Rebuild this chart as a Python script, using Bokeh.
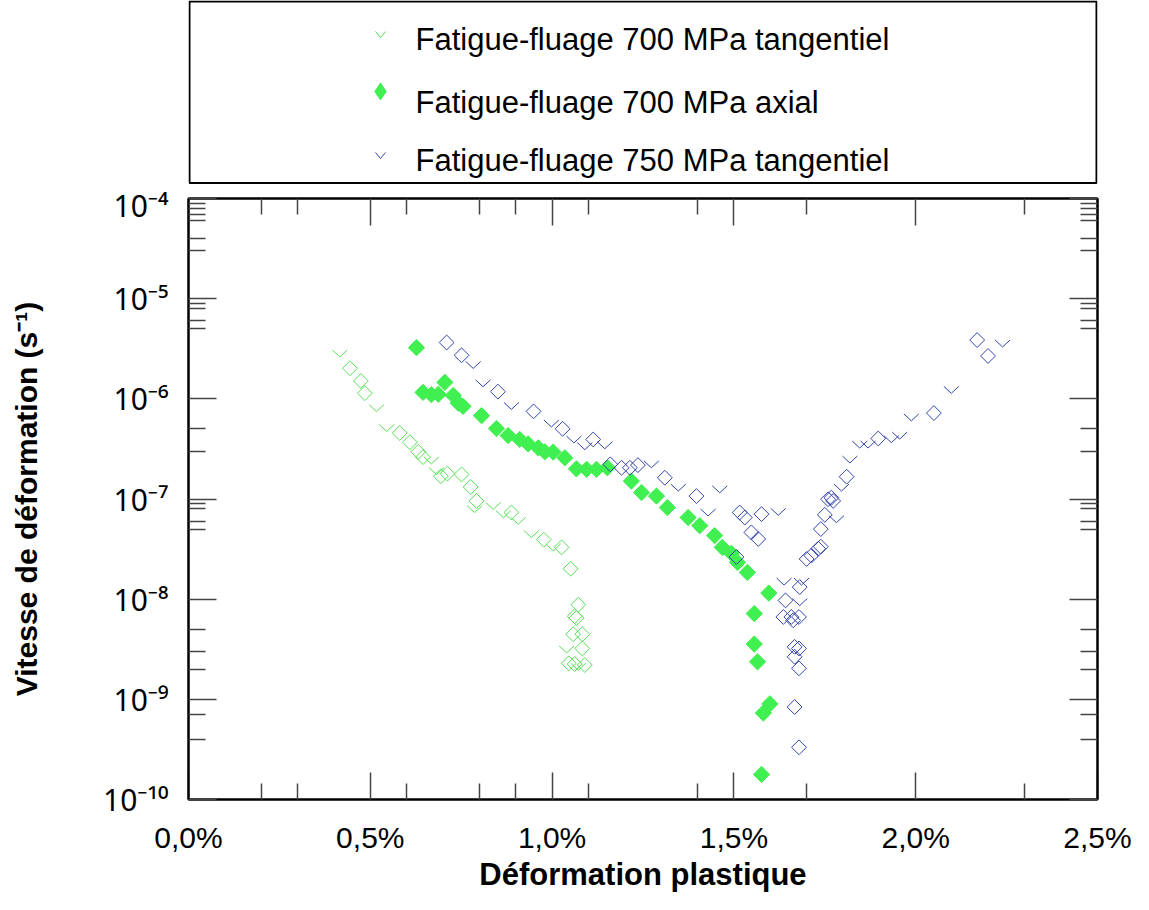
import math
from bokeh.plotting import figure
from bokeh.models import Range1d, FixedTicker, CustomJSTickFormatter, LogAxis, LinearAxis
from bokeh.layouts import column
from bokeh.embed import file_html
from bokeh.resources import INLINE
from bokeh.core.properties import value

# ---------------- data (x: plastic strain in %, y: strain rate in 1/s) ----------------
legend_labels = ["Fatigue-fluage 700 MPa tangentiel",
                 "Fatigue-fluage 700 MPa axial",
                 "Fatigue-fluage 750 MPa tangentiel"]

x_ticks = [0.0, 0.5, 1.0, 1.5, 2.0, 2.5]
x_minor_ticks = [0.2, 0.3, 0.6, 0.8, 0.9, 1.1, 1.4, 1.7, 2.3]
y_ticks = [1e-10, 1e-9, 1e-8, 1e-7, 1e-6, 1e-5, 1e-4]
y_minor_ticks = [9e-5, 8e-5, 7e-5, 6e-5, 4e-5, 3e-5,
                 9e-6, 8e-6, 6e-6, 5e-6,
                 5e-7, 3e-7,
                 9e-8, 8e-8, 6e-8, 5e-8,
                 5e-9, 3e-9, 2e-9,
                 7e-10, 4e-10]

# 700 MPa tangentiel - check marks
g_tan_chk_x = [0.416, 0.517, 0.545, 0.668, 0.682, 0.787, 0.838, 0.866, 0.907, 0.943, 1.003, 1.040, 1.072]
g_tan_chk_y = [2.84e-6, 8.09e-7, 5.12e-7, 2.43e-7, 1.90e-7, 7.93e-8, 8.53e-8, 7.06e-8, 6.07e-8,
               4.47e-8, 3.29e-8, 3.15e-9, 2.12e-9]
# 700 MPa tangentiel - open diamonds
g_tan_dia_x = [0.444, 0.474, 0.485, 0.581, 0.609, 0.632, 0.645, 0.694, 0.712, 0.751, 0.776, 0.792,
               0.888, 0.977, 1.026, 1.051, 1.072, 1.062, 1.067, 1.058, 1.083, 1.083, 1.046, 1.062, 1.090]
g_tan_dia_y = [2.02e-6, 1.51e-6, 1.14e-6, 4.56e-7, 3.69e-7, 2.96e-7, 2.62e-7, 1.69e-7, 1.79e-7,
               1.76e-7, 1.32e-7, 9.57e-8, 7.33e-8, 3.93e-8, 3.29e-8, 2.01e-8, 8.81e-9, 6.75e-9,
               6.49e-9, 4.47e-9, 4.47e-9, 3.22e-9, 2.29e-9, 2.25e-9, 2.20e-9]
# 700 MPa axial - filled diamonds
g_ax_x = [0.627, 0.645, 0.668, 0.687, 0.705, 0.728, 0.742, 0.755, 0.806, 0.847, 0.879, 0.911, 0.934,
          0.962, 0.980, 1.003, 1.035, 1.067, 1.095, 1.122, 1.152, 1.218, 1.246, 1.287, 1.317, 1.374,
          1.406, 1.447, 1.468, 1.493, 1.510, 1.537, 1.596, 1.556, 1.556, 1.565, 1.599, 1.581, 1.576]
g_ax_y = [3.24e-6, 1.16e-6, 1.10e-6, 1.11e-6, 1.46e-6, 1.08e-6, 9.06e-7, 8.41e-7, 6.79e-7, 5.05e-7,
          4.30e-7, 3.93e-7, 3.55e-7, 3.24e-7, 2.96e-7, 2.94e-7, 2.58e-7, 2.00e-7, 1.98e-7, 1.98e-7,
          2.05e-7, 1.51e-7, 1.16e-7, 1.07e-7, 8.22e-8, 6.53e-8, 5.41e-8, 4.31e-8, 3.29e-8, 2.87e-8,
          2.33e-8, 1.85e-8, 1.15e-8, 7.18e-9, 3.56e-9, 2.37e-9, 9.02e-10, 7.30e-10, 1.78e-10]
# 750 MPa tangentiel - check marks
b_tan_chk_x = [0.783, 0.810, 0.888, 0.998, 1.060, 1.090, 1.145, 1.273, 1.347, 1.429, 1.461, 1.622,
               1.638, 1.686, 1.681, 1.796, 1.782, 1.819, 1.846, 1.869, 1.933, 1.956, 1.988, 2.098, 2.239]
b_tan_chk_y = [2.18e-6, 1.43e-6, 8.50e-7, 5.68e-7, 3.93e-7, 3.37e-7, 3.44e-7, 2.22e-7, 1.30e-7,
               7.33e-8, 1.25e-7, 7.45e-8, 1.50e-8, 1.50e-8, 9.35e-9, 1.30e-7, 6.29e-8, 2.48e-7,
               3.50e-7, 3.50e-7, 3.96e-7, 4.30e-7, 6.53e-7, 1.23e-6, 3.57e-6]
# 750 MPa tangentiel - open diamonds
b_tan_dia_x = [0.710, 0.751, 0.851, 0.949, 1.029, 1.113, 1.160, 1.191, 1.214, 1.236, 1.310, 1.397,
               1.516, 1.530, 1.576, 1.548, 1.567, 1.507, 1.700, 1.713, 1.732, 1.739, 1.739, 1.750,
               1.759, 1.768, 1.773, 1.810, 1.897, 2.050, 2.169, 2.199, 1.681, 1.642, 1.636, 1.658,
               1.679, 1.663, 1.667, 1.679, 1.667, 1.679, 1.667, 1.679]
b_tan_dia_y = [3.65e-6, 2.72e-6, 1.18e-6, 7.50e-7, 5.02e-7, 3.93e-7, 2.22e-7, 2.05e-7, 2.05e-7,
               2.18e-7, 1.63e-7, 1.07e-7, 7.33e-8, 6.53e-8, 7.06e-8, 4.64e-8, 3.99e-8, 2.64e-8,
               2.52e-8, 2.72e-8, 3.19e-8, 3.34e-8, 5.01e-8, 6.95e-8, 9.95e-8, 1.03e-7, 9.57e-8,
               1.67e-7, 4.02e-7, 7.21e-7, 3.86e-6, 2.68e-6, 1.32e-8, 9.72e-9, 6.64e-9, 6.64e-9,
               6.64e-9, 6.15e-9, 3.34e-9, 3.22e-9, 2.66e-9, 2.04e-9, 8.38e-10, 3.32e-10]

# ---------------- layout / style ----------------
FONT = "Liberation Sans"
YTICK_FONT = "Noto Sans"
GREEN_OPEN = "#55e055"
GREEN_FILL = "#40ef50"
BLUE = "#3344aa"
TICK_COLOR = "#444444"

W = 1133
LEG_H = 184
FRAME_L, FRAME_W, FRAME_H = 188, 909, 604
TOP_B, BOT_B = 14, 92
X0, X1 = 0.0, 2.5
Y0, Y1 = 1e-10, 1e-4

PX_PER_X = FRAME_W / (X1 - X0)
PX_PER_DEC = FRAME_H / (math.log10(Y1) - math.log10(Y0))


def vmarks(xs, ys, half_w=7.5, half_h=3.5):
    dx = half_w / PX_PER_X
    f = 10 ** (half_h / PX_PER_DEC)
    return [[x - dx, x, x + dx] for x in xs], [[y * f, y / f, y * f] for y in ys]


# ---------------- legend panel (coordinates = canvas pixels) ----------------
leg = figure(width=W, height=LEG_H,
             x_range=Range1d(FRAME_L, FRAME_L + FRAME_W), y_range=Range1d(LEG_H, 0),
             output_backend="svg", toolbar_location=None,
             min_border_left=FRAME_L, min_border_right=W - FRAME_L - FRAME_W,
             min_border_top=0, min_border_bottom=0,
             x_axis_location=None, y_axis_location=None)
leg.outline_line_color = None
leg.grid.visible = False
leg.quad(left=[FRAME_L + 1], right=[FRAME_L + FRAME_W - 1], top=[1], bottom=[LEG_H - 1.5],
         fill_color=None, line_color="black", line_width=2)
row_base = [39, 102, 160]
mk_x = 380
txt_x = 415
leg.multi_line(xs=[[mk_x - 5, mk_x, mk_x + 5]], ys=[[row_base[0] - 8, row_base[0] - 2, row_base[0] - 8]],
               line_color=GREEN_OPEN, line_width=1)
leg.scatter(x=[mk_x], y=[row_base[1] - 11], marker="diamond", size=17,
            fill_color=GREEN_FILL, line_color=GREEN_FILL)
leg.multi_line(xs=[[mk_x - 5, mk_x, mk_x + 5]], ys=[[row_base[2] - 8, row_base[2] - 2, row_base[2] - 8]],
               line_color=BLUE, line_width=1)
leg.text(x=[txt_x] * 3, y=row_base, text=legend_labels, text_font=value(FONT),
         text_font_size="31px", text_baseline="alphabetic", text_align="left", text_color="black")

# ---------------- main plot ----------------
p = figure(width=W, height=TOP_B + FRAME_H + BOT_B,
           x_range=Range1d(X0, X1), y_range=Range1d(Y0, Y1), y_axis_type="log",
           output_backend="svg", toolbar_location=None,
           min_border_left=FRAME_L, min_border_right=W - FRAME_L - FRAME_W,
           min_border_top=TOP_B, min_border_bottom=BOT_B)
p.grid.visible = False
p.outline_line_color = "black"
p.outline_line_width = 2

xt = FixedTicker(ticks=x_ticks, minor_ticks=x_minor_ticks)
yt = FixedTicker(ticks=y_ticks, minor_ticks=y_minor_ticks)
empty_fmt = CustomJSTickFormatter(code="return '';")

xa = p.xaxis[0]
xa.ticker = xt
xa.formatter = CustomJSTickFormatter(code="return tick.toFixed(1).replace('.', ',') + '%';")
xa.axis_label = "Déformation plastique"
xa.major_label_standoff = 21
xa.axis_label_standoff = 0
xa.major_label_text_font = FONT
xa.major_label_text_font_size = "30px"
xa.axis_label_text_font_size = "31px"

ta = LinearAxis(ticker=xt, formatter=empty_fmt)
ta.major_label_standoff = 0
ta.major_label_text_font_size = "1px"
p.add_layout(ta, "above")

sup_code = """
const sup = {'-':'\u207b','0':'\u2070','1':'\u00b9','2':'\u00b2','3':'\u00b3','4':'\u2074',
             '5':'\u2075','6':'\u2076','7':'\u2077','8':'\u2078','9':'\u2079'};
const e = Math.round(Math.log10(tick));
return '10' + String(e).split('').map(c => sup[c]).join('');
"""
ya = p.yaxis[0]
ya.ticker = yt
ya.formatter = CustomJSTickFormatter(code=sup_code)
ya.axis_label = "Vitesse de déformation (s\u207b\u00b9)"
ya.major_label_standoff = 20
ya.axis_label_standoff = 57
ya.major_label_text_font = YTICK_FONT
ya.major_label_text_font_size = "30px"
ya.axis_label_text_font_size = "30px"

ra = LogAxis(ticker=yt, formatter=empty_fmt)
ra.major_label_standoff = 0
ra.major_label_text_font_size = "1px"
p.add_layout(ra, "right")

for ax in (xa, ta):
    ax.major_tick_in, ax.major_tick_out = 27, 0
    ax.minor_tick_in, ax.minor_tick_out = 16, 0
for ax in (ya, ra):
    ax.major_tick_in, ax.major_tick_out = 28, 0
    ax.minor_tick_in, ax.minor_tick_out = 17, 0

for ax in (xa, ta, ya, ra):
    ax.axis_line_color = "black"
    ax.axis_line_width = 2
    ax.major_tick_line_color = TICK_COLOR
    ax.minor_tick_line_color = TICK_COLOR
    ax.major_tick_line_width = 1.5
    ax.minor_tick_line_width = 1.5
    ax.axis_label_text_font = FONT
    ax.axis_label_text_font_style = "bold"
    ax.axis_label_text_color = "black"
    ax.major_label_text_color = "black"

# 700 MPa tangentiel
gx, gy = vmarks(g_tan_chk_x, g_tan_chk_y)
p.multi_line(xs=gx, ys=gy, line_color=GREEN_OPEN, line_width=1)
p.scatter(x=g_tan_dia_x, y=g_tan_dia_y, marker="square", angle=math.pi / 4, size=10.5,
          fill_color=None, line_color=GREEN_OPEN, line_width=1)
# 700 MPa axial
p.scatter(x=g_ax_x, y=g_ax_y, marker="square", angle=math.pi / 4, size=11.5,
          fill_color=GREEN_FILL, line_color=GREEN_FILL, line_width=1)
# 750 MPa tangentiel
bx, by = vmarks(b_tan_chk_x, b_tan_chk_y)
p.multi_line(xs=bx, ys=by, line_color=BLUE, line_width=1)
p.scatter(x=b_tan_dia_x, y=b_tan_dia_y, marker="square", angle=math.pi / 4, size=10.5,
          fill_color=None, line_color=BLUE, line_width=1)

layout = column(leg, p)
open("out.html", "w").write(file_html(layout, INLINE, title="Vitesse de déformation"))
